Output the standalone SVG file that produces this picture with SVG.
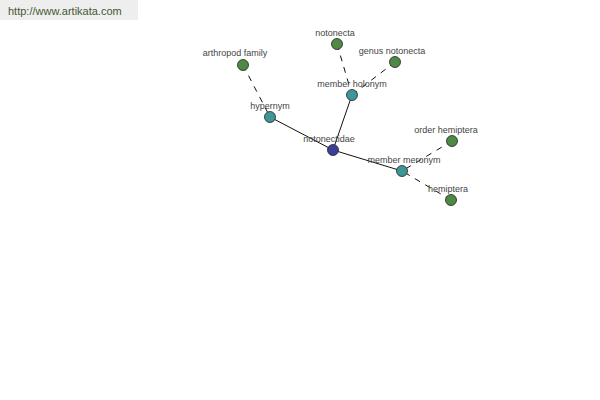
<svg xmlns="http://www.w3.org/2000/svg" width="600" height="400" viewBox="0 0 600 400">
<style>
.lbl{font-family:"Liberation Sans",Arial,sans-serif;font-size:9px;fill:#444;text-anchor:middle}
.n{stroke:#222;stroke-width:0.8}
.g{fill:#4f8a45}
.t{fill:#3f9696}
.b{fill:#3c3f98}
.s{stroke:#111;stroke-width:1;fill:none}
.d{stroke:#111;stroke-width:1;fill:none;stroke-dasharray:6,6}
</style>
<rect x="0" y="0" width="138" height="20" fill="#eeeeee"/>
<text x="8" y="15" style="font-family:'Liberation Sans',Arial,sans-serif;font-size:11px;fill:#3f5a32">http://www.artikata.com</text>
<g id="connectors">
<line class="s" x1="333" y1="150" x2="270" y2="117"/>
<line class="s" x1="333" y1="150" x2="352" y2="95"/>
<line class="s" x1="333" y1="150" x2="402" y2="171"/>
<line class="d" x1="243" y1="65" x2="270" y2="117"/>
<line class="d" x1="337" y1="44" x2="352" y2="95"/>
<line class="d" x1="395" y1="62" x2="352" y2="95"/>
<line class="d" x1="452" y1="141" x2="402" y2="171"/>
<line class="d" x1="451" y1="200" x2="402" y2="171"/>
</g>
<g id="notonectidae"><circle class="n b" cx="333" cy="150" r="5.5"/><text class="lbl" x="329" y="142">notonectidae</text></g>
<g id="hypernym"><circle class="n t" cx="270" cy="117" r="5.5"/><text class="lbl" x="270" y="109">hypernym</text></g>
<g id="member-holonym"><circle class="n t" cx="352" cy="95" r="5.5"/><text class="lbl" x="352" y="87">member holonym</text></g>
<g id="member-meronym"><circle class="n t" cx="402" cy="171" r="5.5"/><text class="lbl" x="404" y="163">member meronym</text></g>
<g id="arthropod-family"><circle class="n g" cx="243" cy="65" r="5.5"/><text class="lbl" x="235" y="56">arthropod family</text></g>
<g id="notonecta"><circle class="n g" cx="337" cy="44" r="5.5"/><text class="lbl" x="335" y="36">notonecta</text></g>
<g id="genus-notonecta"><circle class="n g" cx="395" cy="62" r="5.5"/><text class="lbl" x="392" y="54">genus notonecta</text></g>
<g id="order-hemiptera"><circle class="n g" cx="452" cy="141" r="5.5"/><text class="lbl" x="446" y="133">order hemiptera</text></g>
<g id="hemiptera"><circle class="n g" cx="451" cy="200" r="5.5"/><text class="lbl" x="448" y="192">hemiptera</text></g>
</svg>
